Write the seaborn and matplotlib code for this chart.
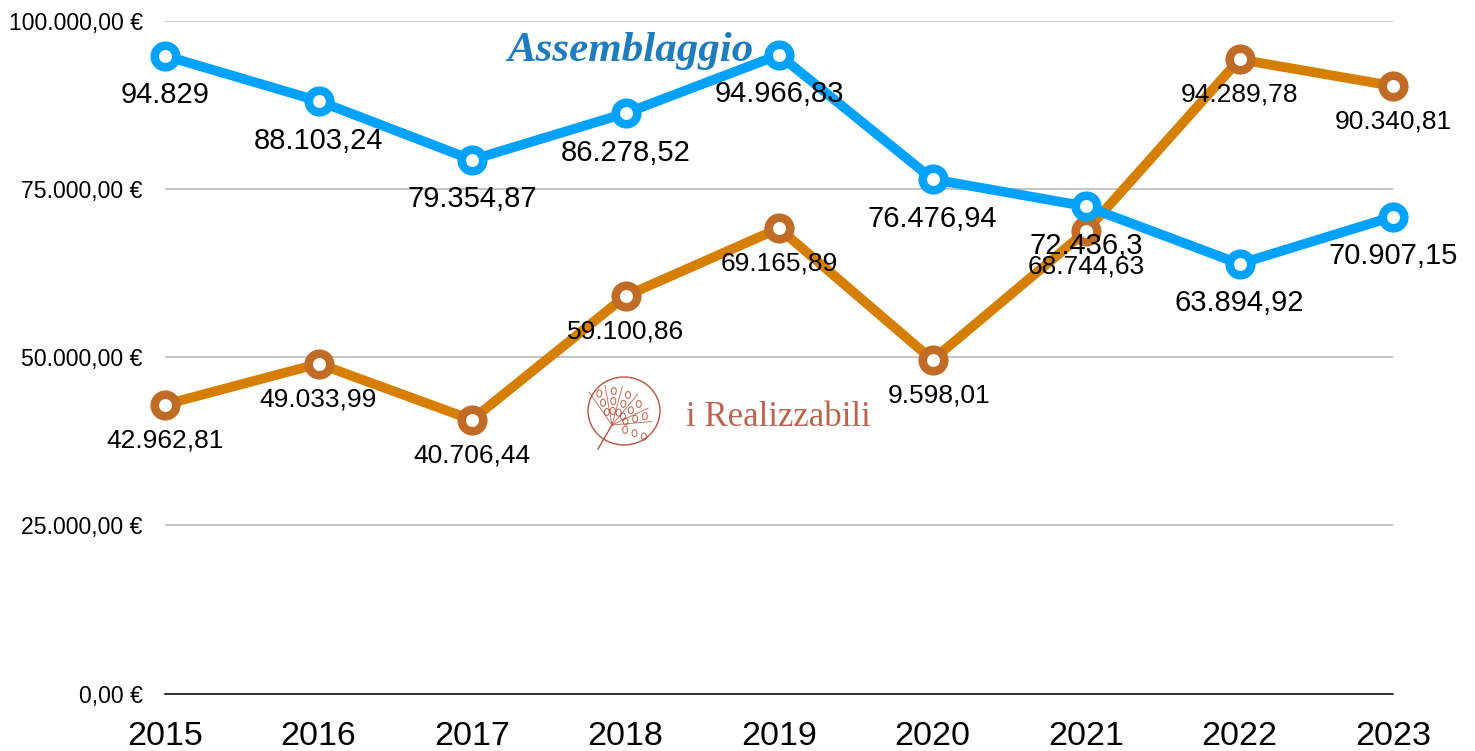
import numpy as np
import pandas as pd
import matplotlib
matplotlib.use('Agg')
import matplotlib.pyplot as plt
from matplotlib.patches import Ellipse
import seaborn as sns

# dati
anni = [2015, 2016, 2017, 2018, 2019, 2020, 2021, 2022, 2023]
blu = [94829, 88103.24, 79354.87, 86278.52, 94966.83, 76476.94, 72436.3, 63894.92, 70907.15]
arancio = [42962.81, 49033.99, 40706.44, 59100.86, 69165.89, 49598.01, 68744.63, 94289.78, 90340.81]
etichette_blu = ['94.829', '88.103,24', '79.354,87', '86.278,52', '94.966,83', '76.476,94', '72.436,3', '63.894,92', '70.907,15']
etichette_arancio = ['42.962,81', '49.033,99', '40.706,44', '59.100,86', '69.165,89', '9.598,01', '68.744,63', '94.289,78', '90.340,81']
spost_arancio = [0, 0, 0, 0, 0, 7, 0, 0, 0]
tick_y = [0, 25000, 50000, 75000, 100000]
tick_y_label = ['0,00 €', '25.000,00 €', '50.000,00 €', '75.000,00 €', '100.000,00 €']

W, H = 1475, 751
plt.rcParams['font.family'] = ['Liberation Sans', 'DejaVu Sans']

df = pd.DataFrame({'anno': anni, 'blu': blu, 'arancio': arancio})

fig = plt.figure(figsize=(W / 100, H / 100), dpi=100)
ax = fig.add_axes([165 / W, 1 - 693.5 / H, (1393 - 165) / W, (693.5 - 21) / H])

# griglia
sns.despine(ax=ax, left=True, top=True, right=True)
ax.set_axisbelow(True)
ax.grid(axis='y', color='#b4b4b4', linewidth=1.1)
ax.grid(axis='x', visible=False)
ax.spines['bottom'].set_color('black')
ax.spines['bottom'].set_linewidth(1.1)

# linee
sns.lineplot(data=df, x='anno', y='arancio', ax=ax, color='#d67e00', linewidth=7,
             marker='o', markersize=15.5, markeredgewidth=6.2, markerfacecolor='white',
             markeredgecolor='#c06c26', clip_on=False, zorder=3)
sns.lineplot(data=df, x='anno', y='blu', ax=ax, color='#00a2ff', linewidth=7,
             marker='o', markersize=15.5, markeredgewidth=6.2, markerfacecolor='white',
             markeredgecolor='#00a2ff', clip_on=False, zorder=4)

ax.set_xlim(2015, 2023)
ax.set_ylim(0, 100000)
ax.set_xticks(anni)
ax.set_xticklabels(anni, fontsize=24.5)
ax.set_yticks(tick_y)
ax.set_yticklabels(tick_y_label, fontsize=16.6)
ax.tick_params(axis='x', length=0, pad=20)
ax.tick_params(axis='y', length=0, pad=16)
ax.set_xlabel('')
ax.set_ylabel('')

# etichette dei punti
for x, y, t in zip(anni, blu, etichette_blu):
    ax.annotate(t, (x, y), xytext=(0, -39.5 * 0.72), textcoords='offset points',
                ha='center', va='center', fontsize=21, color='black', zorder=6)
for x, y, t, dx in zip(anni, arancio, etichette_arancio, spost_arancio):
    ax.annotate(t, (x, y), xytext=(dx * 0.72, -35.5 * 0.72), textcoords='offset points',
                ha='center', va='center', fontsize=19, color='black', zorder=5)

# titolo
fig.text(630 / W, 1 - 51 / H, 'Assemblaggio', fontsize=31, family='Liberation Serif',
         style='italic', weight='bold', color='#1f7cbe', ha='center', va='center', zorder=10)

# logo
rosso = '#b5533c'
fig.text(778 / W, 1 - 417 / H, 'i Realizzabili', fontsize=25, family='Liberation Serif',
         color=rosso, ha='center', va='center', alpha=0.9)
logo = fig.add_axes([580 / W, 1 - 455 / H, 90 / W, 80 / H])
logo.set_xlim(0, 90)
logo.set_ylim(80, 0)
logo.axis('off')
logo.patch.set_alpha(0)
logo.add_patch(Ellipse((44, 36), 72, 68, fill=False, edgecolor=rosso, linewidth=1))
cx, cy = 32, 50
logo.plot([cx, 18], [50, 74], color=rosso, linewidth=1)
for ang in np.radians([-5, -25, -50, -75, -100, -125]):
    logo.plot([cx, cx + 40 * np.cos(ang)], [cy, cy + 40 * np.sin(ang)], color=rosso, linewidth=0.7, alpha=0.8)
for r in [14, 24, 34]:
    for ang in np.radians([-15, -38, -62, -87, -112, 20]):
        logo.add_patch(Ellipse((cx + r * np.cos(ang), cy + r * np.sin(ang)), 5, 7, fill=False,
                               edgecolor=rosso, linewidth=0.8, alpha=0.85))

fig.savefig('out.png', dpi=100)
plt.close(fig)
